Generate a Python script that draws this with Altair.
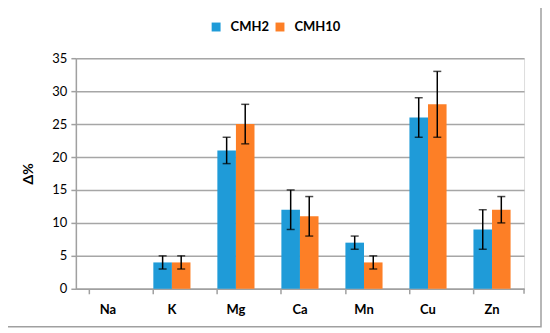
import altair as alt
import pandas as pd

elements = ["Na", "K", "Mg", "Ca", "Mn", "Cu", "Zn"]
series = ["CMH2", "CMH10"]
cmh2 = [0, 4, 21, 12, 7, 26, 9]
cmh2_err = [0, 1, 2, 3, 1, 3, 3]
cmh10 = [0, 4, 25, 11, 4, 28, 12]
cmh10_err = [0, 1, 3, 3, 1, 5, 2]
colors = ["#1f9bd8", "#fd7f26"]
yticks = [0, 5, 10, 15, 20, 25, 30, 35]

rows = []
for i, el in enumerate(elements):
    rows.append({"el": el, "s": "CMH2", "v": cmh2[i], "e": cmh2_err[i]})
    rows.append({"el": el, "s": "CMH10", "v": cmh10[i], "e": cmh10_err[i]})
df = pd.DataFrame(rows)
df["lo"] = df["v"] - df["e"]
df["hi"] = df["v"] + df["e"]

W, H = 449, 231
FONT = "Lato"

xaxis = alt.Axis(labelAngle=0, labelFontWeight="bold", labelFontSize=13,
                 labelFont=FONT, labelColor="#000", labelPadding=10,
                 bandPosition=0, tickSize=5, tickColor="#a0a0a0",
                 domainColor="#a0a0a0", domainWidth=1.5, tickWidth=1.5, grid=False)
xscale = alt.Scale(paddingInner=0.42, paddingOuter=0.21)
yaxis = alt.Axis(values=yticks, labelFontSize=13, labelFont=FONT,
                 labelColor="#000", titleFont=FONT, titleFontSize=14,
                 titleFontWeight="bold", titleColor="#000", titlePadding=16,
                 tickSize=5, tickColor="#a0a0a0", tickWidth=1.5,
                 domainColor="#a0a0a0", domainWidth=1.5,
                 gridColor="#a6a6a6", gridWidth=1.5, labelPadding=4)
yscale = alt.Scale(domain=[0, 35])


def X():
    return alt.X("el:N", sort=elements, title=None, scale=xscale, axis=xaxis)


def Y(field):
    return alt.Y(field, title="Δ%", scale=yscale, axis=yaxis)


xoff = alt.XOffset("s:N", sort=series)

bars = alt.Chart(df).mark_bar().encode(
    x=X(),
    xOffset=xoff,
    y=Y("v:Q"),
    color=alt.Color("s:N", sort=series, scale=alt.Scale(domain=series, range=colors),
                    legend=alt.Legend(title=None, orient="none", direction="horizontal",
                                      legendX=134, legendY=-38, symbolType="square",
                                      symbolSize=80, symbolStrokeWidth=0,
                                      labelFont=FONT, labelFontSize=13,
                                      labelFontWeight="bold", labelColor="#000",
                                      columnPadding=4, labelOffset=8)),
)

err_df = df[df["e"] > 0]
rules = alt.Chart(err_df).mark_rule(color="#000", strokeWidth=1.5).encode(
    x=X(), xOffset=xoff, y=Y("lo:Q"), y2="hi:Q")
caps_hi = alt.Chart(err_df).mark_tick(color="#000", thickness=1.5, size=8).encode(
    x=X(), xOffset=xoff, y=Y("hi:Q"))
caps_lo = alt.Chart(err_df).mark_tick(color="#000", thickness=1.5, size=8).encode(
    x=X(), xOffset=xoff, y=Y("lo:Q"))

end_tick = alt.Chart(pd.DataFrame({"a": [0]})).mark_rule(color="#a0a0a0", strokeWidth=1.5).encode(
    x=alt.value(W), y=alt.value(H), y2=alt.value(H + 5))

border = alt.Chart(pd.DataFrame({"a": [0]})).mark_rect(
    fill=None, stroke="#a0a0a0", strokeWidth=1.5, clip=False).encode(
    x=alt.value(-71), x2=alt.value(466), y=alt.value(-53), y2=alt.value(269))

chart = alt.layer(border, bars, rules, caps_hi, caps_lo, end_tick).properties(
    width=W, height=H,
    autosize=alt.AutoSizeParams(type="none"),
    padding={"left": 68, "top": 50, "right": 18, "bottom": 40},
).configure_view(stroke=None).configure(background="white")

chart.save("out.html", embed_options={"renderer": "svg", "actions": False})
